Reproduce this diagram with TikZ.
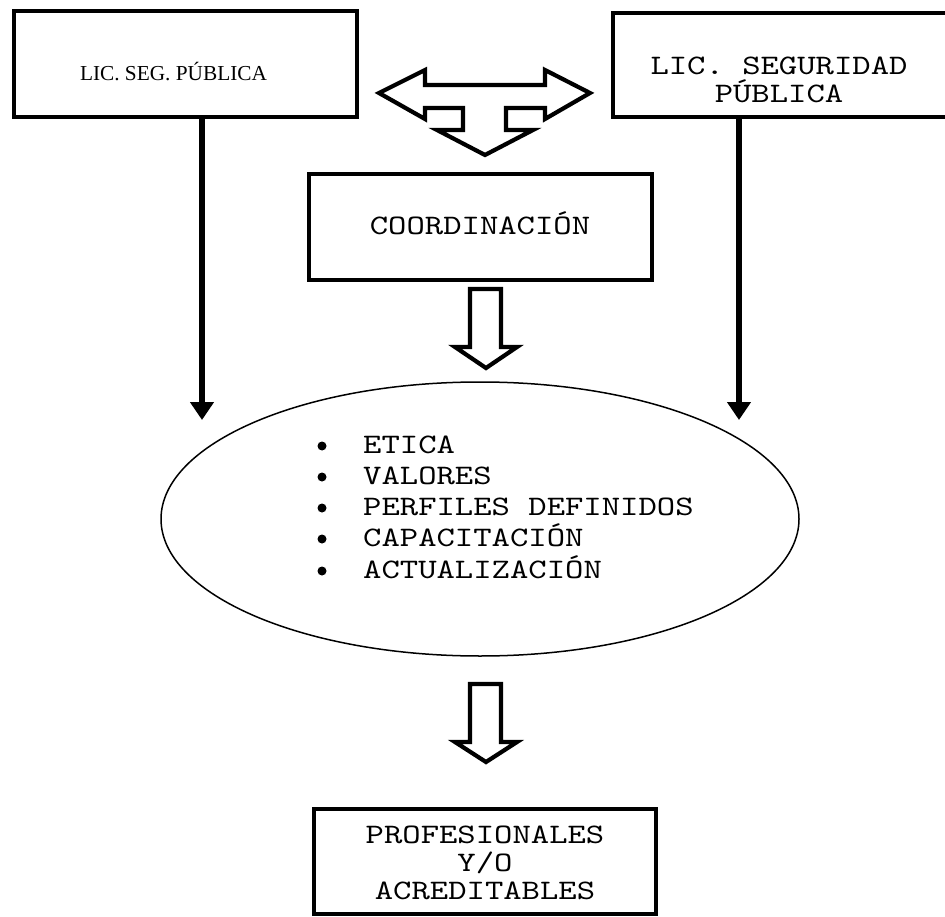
\documentclass[tikz,border=0pt]{standalone}
\usepackage{fontspec}
\usetikzlibrary{arrows.meta,shapes.geometric}
\newfontfamily\monofnt[FakeStretch=1.24]{lmmono10-regular.otf}
\newfontfamily\serifnt{Liberation Serif}
\newcommand\ctrlines[1]{\vtop{\lineskiplimit=-\maxdimen\halign{\hfil##\hfil\cr#1\crcr}}}
\newcommand\leftlines[1]{\vtop{\lineskiplimit=-\maxdimen\halign{##\hfil\cr#1\crcr}}}
\tikzset{
  boxnode/.style={draw=black, line width=4pt, inner sep=0pt, rectangle},
  monotext/.style={inner sep=0pt, font=\monofnt\fontsize{28.2}{28}\selectfont},
  blockarrow/.style={draw=black, line width=4.2pt, line join=miter, fill=white},
  thinarrow/.style={draw=black, line width=6pt, -{Triangle[width=23pt,length=18pt]}},
  bulletdot/.style={circle, fill=black, inner sep=0pt, minimum size=9pt}
}
\begin{document}
\begin{tikzpicture}[x=1pt, y=-1pt]
\useasboundingbox (0,0) rectangle (945,917);
\fill[white] (0,0) rectangle (945,917);

% boxes
\node[boxnode, minimum width=343pt, minimum height=106pt] (lbox) at (185.5,64) {};
\node[inner sep=0pt, anchor=base, font=\serifnt\fontsize{21.3}{24}\selectfont] (ltext) at (173.5,81) {LIC. SEG. PÚBLICA};

\node[boxnode, minimum width=335pt, minimum height=104pt] (rbox) at (780.5,65) {};
\node[monotext, anchor=base] (rtext) at (779,75) {\ctrlines{LIC. SEGURIDAD\cr PÚBLICA}};

\node[boxnode, minimum width=343pt, minimum height=106pt] (coord) at (480.5,227) {};
\node[monotext, anchor=base] (ctext) at (480,235) {COORDINACIÓN};

\node[boxnode, minimum width=342pt, minimum height=105pt] (pbox) at (485,861.5) {};
\node[monotext, anchor=base] (ptext) at (485,843) {\ctrlines{PROFESIONALES\cr Y/O\cr ACREDITABLES}};

% ellipse
\node[ellipse, draw=black, line width=1.5pt, minimum width=638pt, minimum height=274pt, inner sep=0pt] (ell) at (480,519) {};
\node[inner sep=0pt, anchor=base west, font=\monofnt\fontsize{28.2}{31.25}\selectfont] (items) at (363,453)
  {\leftlines{ETICA\cr VALORES\cr PERFILES DEFINIDOS\cr CAPACITACIÓN\cr ACTUALIZACIÓN}};
\foreach \i/\yy in {1/446, 2/477, 3/508, 4/539, 5/571}
  \node[bulletdot] (b\i) at (322,\yy) {};

% thin vertical arrows
\coordinate (la) at (202,420);
\coordinate (ra) at (739,420);
\draw[thinarrow] (lbox.south -| la) -- (la);
\draw[thinarrow] (rbox.south -| ra) -- (ra);

% T-shaped block arrow
\draw[blockarrow] (379,93) -- (425,70) -- (425,85) -- (545,85) -- (545,70) -- (590,93)
  -- (545,119) -- (545,108) -- (506,108) -- (506,130) -- (533,130) -- (485,155)
  -- (437,130) -- (463,130) -- (463,108) -- (425,108) -- (425,119) -- cycle;

% down block arrows
\draw[blockarrow] (470,289) -- (501,289) -- (501,347) -- (517,347) -- (486,368) -- (455,347) -- (470,347) -- cycle;
\draw[blockarrow] (470,684) -- (501,684) -- (501,742) -- (517,742) -- (486,762) -- (455,742) -- (470,742) -- cycle;
\end{tikzpicture}
\end{document}
